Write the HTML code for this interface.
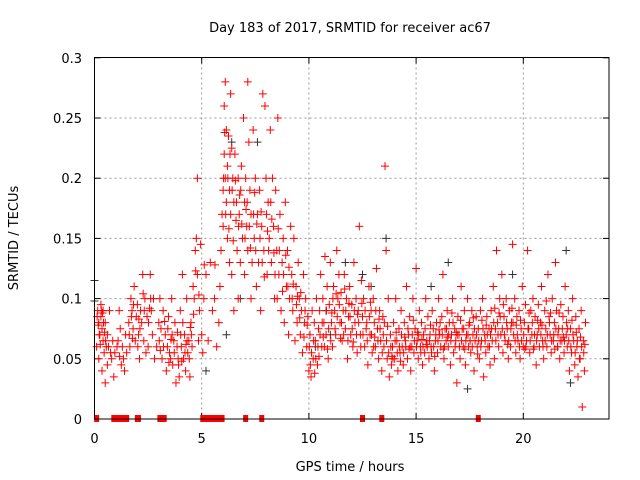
<!DOCTYPE html>
<html><head><meta charset="utf-8"><style>
body{margin:0;background:#fff}
svg{display:block;font-family:"DejaVu Sans","Liberation Sans",sans-serif}
</style></head><body>
<svg id="chart" width="640" height="480" viewBox="0 0 640 480">
<rect width="640" height="480" fill="#fff"/>
<text x="350" y="32" font-size="13" text-anchor="middle">Day 183 of 2017, SRMTID for receiver ac67</text>
<text transform="translate(18,238) rotate(-90)" font-size="13" text-anchor="middle">SRMTID / TECUs</text>
<text x="350" y="471" font-size="13" text-anchor="middle">GPS time / hours</text>
<g id="grid"></g>
<g id="ticks"></g>
<g id="marks"></g>
<rect x="94.5" y="57.5" width="514.5" height="361.5" fill="none" stroke="#000" stroke-width="1"/>
</svg>
<script>
const xTicks=[0,5,10,15,20];
const yTicks=[0,0.05,0.1,0.15,0.2,0.25,0.3];
const yTickLabels=["0","0.05","0.1","0.15","0.2","0.25","0.3"];
const redPoints=[[0.1,0.06],[0.15,0.09],[0.2,0.08],[0.2,0.05],[0.25,0.07],[0.3,0.095],[0.3,0.085],[0.35,0.04],[0.35,0.075],[0.4,0.09],[0.4,0.065],[0.45,0.055],[0.5,0.08],[0.5,0.03],[0.55,0.06],[0.6,0.07],[0.6,0.045],[0.65,0.06],[0.7,0.09],[0.75,0.055],[0.8,0.05],[0.85,0.065],[0.9,0.035],[0.95,0.055],[1.05,0.06],[1.1,0.065],[1.15,0.09],[1.2,0.075],[1.25,0.045],[1.3,0.06],[1.35,0.05],[1.4,0.04],[1.45,0.07],[1.5,0.055],[1.6,0.08],[1.65,0.06],[1.7,0.1],[1.75,0.09],[1.8,0.075],[1.85,0.11],[1.9,0.065],[1.95,0.085],[2.0,0.095],[2.05,0.07],[2.1,0.05],[2.15,0.09],[2.2,0.08],[2.25,0.12],[2.3,0.065],[2.35,0.1],[2.4,0.055],[2.45,0.085],[2.5,0.06],[2.6,0.12],[2.65,0.09],[2.7,0.07],[2.75,0.1],[2.8,0.05],[2.9,0.06],[3.0,0.08],[3.05,0.1],[3.1,0.075],[3.15,0.05],[3.2,0.09],[3.3,0.07],[3.35,0.04],[3.4,0.06],[3.45,0.085],[3.5,0.055],[3.55,0.05],[3.6,0.1],[3.65,0.045],[3.7,0.065],[3.75,0.08],[3.8,0.03],[3.85,0.06],[3.9,0.05],[3.95,0.035],[4.0,0.09],[4.05,0.06],[4.1,0.12],[4.15,0.05],[4.2,0.07],[4.25,0.04],[4.3,0.1],[4.35,0.055],[4.4,0.065],[4.45,0.035],[4.5,0.08],[4.55,0.06],[4.6,0.11],[4.65,0.1],[4.7,0.14],[4.75,0.15],[4.8,0.2],[4.8,0.12],[4.85,0.065],[4.9,0.09],[4.95,0.145],[5.0,0.07],[5.05,0.055],[5.1,0.1],[5.2,0.12],[5.3,0.065],[5.4,0.13],[5.5,0.09],[5.6,0.1],[5.7,0.06],[5.8,0.08],[5.85,0.11],[5.9,0.14],[5.95,0.17],[6.0,0.19],[6.0,0.16],[6.05,0.26],[6.05,0.22],[6.1,0.28],[6.1,0.2],[6.15,0.24],[6.15,0.18],[6.2,0.21],[6.2,0.15],[6.25,0.235],[6.3,0.19],[6.3,0.13],[6.35,0.27],[6.35,0.17],[6.4,0.225],[6.4,0.12],[6.45,0.2],[6.5,0.18],[6.5,0.09],[6.55,0.22],[6.6,0.165],[6.65,0.14],[6.7,0.2],[6.7,0.1],[6.75,0.17],[6.8,0.13],[6.85,0.21],[6.9,0.15],[6.95,0.25],[7.0,0.18],[7.0,0.12],[7.05,0.2],[7.1,0.16],[7.15,0.28],[7.15,0.14],[7.2,0.23],[7.25,0.19],[7.3,0.1],[7.3,0.17],[7.35,0.13],[7.4,0.24],[7.45,0.15],[7.5,0.2],[7.55,0.11],[7.6,0.17],[7.65,0.13],[7.7,0.19],[7.75,0.09],[7.8,0.16],[7.85,0.27],[7.9,0.14],[7.95,0.26],[8.0,0.2],[8.05,0.12],[8.1,0.18],[8.15,0.15],[8.2,0.24],[8.25,0.13],[8.3,0.2],[8.35,0.16],[8.4,0.1],[8.45,0.19],[8.5,0.14],[8.55,0.25],[8.6,0.12],[8.65,0.17],[8.7,0.09],[8.75,0.13],[8.8,0.15],[8.85,0.08],[8.9,0.18],[8.95,0.11],[9.0,0.14],[9.05,0.07],[9.1,0.1],[9.15,0.16],[9.2,0.12],[9.25,0.09],[9.3,0.15],[9.35,0.065],[9.4,0.11],[9.45,0.08],[9.5,0.13],[9.55,0.1],[9.6,0.07],[9.65,0.09],[9.7,0.055],[9.75,0.12],[9.8,0.08],[9.85,0.1],[9.9,0.06],[9.95,0.085],[10.0,0.04],[10.05,0.07],[10.1,0.035],[10.15,0.09],[10.2,0.05],[10.25,0.08],[10.3,0.065],[10.35,0.1],[10.4,0.045],[10.45,0.075],[10.5,0.09],[10.55,0.12],[10.6,0.06],[10.65,0.1],[10.7,0.08],[10.75,0.135],[10.8,0.07],[10.85,0.11],[10.9,0.05],[10.95,0.095],[11.0,0.13],[11.05,0.08],[11.1,0.06],[11.15,0.11],[11.2,0.09],[11.25,0.07],[11.3,0.14],[11.35,0.1],[11.4,0.12],[11.45,0.08],[11.5,0.105],[11.55,0.065],[11.6,0.09],[11.65,0.12],[11.7,0.075],[11.75,0.1],[11.8,0.05],[11.85,0.085],[11.9,0.11],[11.95,0.07],[12.0,0.095],[12.05,0.06],[12.1,0.13],[12.15,0.08],[12.2,0.1],[12.25,0.055],[12.3,0.09],[12.35,0.16],[12.4,0.07],[12.45,0.115],[12.5,0.085],[12.55,0.1],[12.6,0.06],[12.7,0.08],[12.75,0.045],[12.8,0.11],[12.85,0.07],[12.9,0.09],[12.95,0.055],[13.0,0.1],[13.05,0.08],[13.1,0.06],[13.15,0.125],[13.2,0.075],[13.25,0.05],[13.3,0.09],[13.35,0.065],[13.4,0.04],[13.45,0.085],[13.5,0.06],[13.55,0.21],[13.6,0.14],[13.65,0.05],[13.7,0.1],[13.75,0.035],[13.8,0.07],[13.85,0.045],[13.9,0.06],[13.95,0.08],[14.0,0.05],[14.05,0.1],[14.1,0.065],[14.15,0.04],[14.2,0.075],[14.25,0.055],[14.3,0.09],[14.35,0.06],[14.4,0.045],[14.45,0.08],[14.5,0.065],[14.55,0.11],[14.6,0.05],[14.65,0.07],[14.7,0.085],[14.75,0.04],[14.8,0.06],[14.85,0.1],[14.9,0.055],[14.95,0.075],[15.0,0.125],[15.05,0.065],[15.1,0.05],[15.15,0.09],[15.2,0.06],[15.25,0.08],[15.3,0.045],[15.35,0.07],[15.4,0.055],[15.45,0.1],[15.5,0.065],[15.55,0.085],[15.6,0.05],[15.65,0.07],[15.7,0.06],[15.75,0.09],[15.8,0.075],[15.85,0.04],[15.9,0.065],[15.95,0.08],[16.0,0.055],[16.05,0.1],[16.1,0.07],[16.15,0.06],[16.2,0.085],[16.25,0.12],[16.3,0.05],[16.35,0.075],[16.4,0.065],[16.45,0.09],[16.5,0.06],[16.55,0.08],[16.6,0.045],[16.65,0.07],[16.7,0.1],[16.75,0.055],[16.8,0.075],[16.85,0.065],[16.9,0.03],[16.95,0.085],[17.0,0.07],[17.05,0.05],[17.1,0.11],[17.15,0.075],[17.2,0.06],[17.25,0.09],[17.3,0.045],[17.35,0.07],[17.4,0.1],[17.45,0.06],[17.5,0.08],[17.55,0.055],[17.6,0.09],[17.65,0.07],[17.7,0.04],[17.75,0.065],[17.8,0.085],[17.85,0.06],[17.9,0.075],[17.95,0.05],[18.0,0.09],[18.05,0.065],[18.1,0.1],[18.15,0.035],[18.2,0.07],[18.25,0.055],[18.3,0.085],[18.35,0.06],[18.4,0.075],[18.45,0.045],[18.5,0.09],[18.55,0.065],[18.6,0.11],[18.65,0.05],[18.7,0.075],[18.75,0.14],[18.8,0.08],[18.85,0.06],[18.9,0.1],[18.95,0.07],[19.0,0.12],[19.05,0.055],[19.1,0.085],[19.15,0.065],[19.2,0.1],[19.25,0.075],[19.3,0.05],[19.35,0.09],[19.4,0.06],[19.45,0.08],[19.5,0.145],[19.55,0.07],[19.6,0.1],[19.65,0.055],[19.7,0.085],[19.75,0.065],[19.8,0.09],[19.85,0.05],[19.9,0.075],[19.95,0.11],[20.0,0.06],[20.05,0.08],[20.1,0.095],[20.15,0.065],[20.2,0.14],[20.25,0.075],[20.3,0.055],[20.35,0.09],[20.4,0.07],[20.45,0.1],[20.5,0.06],[20.55,0.085],[20.6,0.045],[20.65,0.07],[20.7,0.095],[20.75,0.06],[20.8,0.08],[20.85,0.11],[20.9,0.065],[20.95,0.05],[21.0,0.09],[21.05,0.075],[21.1,0.06],[21.15,0.12],[21.2,0.085],[21.25,0.07],[21.3,0.055],[21.35,0.1],[21.4,0.065],[21.45,0.08],[21.5,0.13],[21.55,0.09],[21.6,0.06],[21.65,0.075],[21.7,0.05],[21.75,0.095],[21.8,0.065],[21.85,0.085],[21.9,0.055],[21.95,0.11],[22.0,0.07],[22.05,0.06],[22.1,0.09],[22.15,0.04],[22.2,0.075],[22.25,0.055],[22.3,0.1],[22.35,0.065],[22.4,0.045],[22.45,0.085],[22.5,0.06],[22.55,0.035],[22.6,0.075],[22.65,0.05],[22.7,0.09],[22.75,0.01],[22.8,0.065],[22.85,0.04],[22.9,0.08],
[0.12,0.085],[0.22,0.07],[0.32,0.09],[0.42,0.08],[0.52,0.065],[1.62,0.07],[1.72,0.085],[1.82,0.095],[2.02,0.06],[2.12,0.075],[2.32,0.09],[2.52,0.08],[2.62,0.1],[3.02,0.065],[3.22,0.06],[3.42,0.075],[3.62,0.07],[3.72,0.055],[3.92,0.045],[4.02,0.07],[4.12,0.08],[4.22,0.055],[4.32,0.065],[4.42,0.05],[4.52,0.07],[6.02,0.2],[6.12,0.17],[6.22,0.2],[6.32,0.22],[6.42,0.19],[6.62,0.18],[6.72,0.16],[6.82,0.19],[7.02,0.15],[7.12,0.18],[7.22,0.16],[7.42,0.17],[7.52,0.14],[7.72,0.15],[7.82,0.13],[8.02,0.17],[8.12,0.14],[8.22,0.18],[8.42,0.12],[8.52,0.1],[8.62,0.14],[8.82,0.12],[9.02,0.11],[9.22,0.1],[9.42,0.095],[9.62,0.105],[9.82,0.09],[10.02,0.06],[10.12,0.055],[10.22,0.065],[10.32,0.05],[10.42,0.06],[10.52,0.07],[10.62,0.08],[10.72,0.06],[10.82,0.09],[10.92,0.075],[11.02,0.065],[11.12,0.1],[11.22,0.075],[11.32,0.085],[11.42,0.095],[11.52,0.08],[11.62,0.07],[11.72,0.09],[11.82,0.065],[11.92,0.085],[12.02,0.075],[12.12,0.09],[12.22,0.07],[12.32,0.08],[12.42,0.06],[12.52,0.07],[12.62,0.09],[12.72,0.065],[12.82,0.085],[12.92,0.07],[13.02,0.06],[13.12,0.09],[13.22,0.065],[13.32,0.075],[13.42,0.055],[13.52,0.08],[13.62,0.065],[13.72,0.055],[13.82,0.06],[13.92,0.05],[14.02,0.065],[14.12,0.055],[14.22,0.06],[14.32,0.07],[14.42,0.055],[14.52,0.06],[14.62,0.075],[14.72,0.06],[14.82,0.07],[14.92,0.065],[15.02,0.06],[15.12,0.07],[15.22,0.055],[15.32,0.06],[15.42,0.075],[15.52,0.06],[15.62,0.065],[15.72,0.055],[15.82,0.06],[15.92,0.07],[16.02,0.065],[16.12,0.08],[16.22,0.07],[16.32,0.06],[16.42,0.075],[16.52,0.07],[16.62,0.065],[16.72,0.08],[16.82,0.06],[16.92,0.07],[17.02,0.06],[17.12,0.065],[17.22,0.075],[17.32,0.065],[17.42,0.07],[17.52,0.065],[17.62,0.06],[17.72,0.075],[17.82,0.07],[17.92,0.065],[18.02,0.06],[18.12,0.075],[18.22,0.065],[18.32,0.07],[18.42,0.06],[18.52,0.075],[18.62,0.08],[18.72,0.065],[18.82,0.07],[18.92,0.085],[19.02,0.075],[19.12,0.07],[19.22,0.08],[19.32,0.065],[19.42,0.075],[19.52,0.08],[19.62,0.065],[19.72,0.07],[19.82,0.06],[19.92,0.065],[20.02,0.07],[20.12,0.06],[20.22,0.075],[20.32,0.065],[20.42,0.08],[20.52,0.07],[20.62,0.065],[20.72,0.075],[20.82,0.07],[20.92,0.06],[21.02,0.065],[21.12,0.07],[21.22,0.08],[21.32,0.065],[21.42,0.07],[21.52,0.075],[21.62,0.07],[21.72,0.065],[21.82,0.075],[21.92,0.065],[22.02,0.08],[22.12,0.065],[22.22,0.06],[22.32,0.07],[22.42,0.055],[22.52,0.065],[22.62,0.05],[22.72,0.06],[22.82,0.055],
[0.17,0.078],[0.27,0.062],[0.37,0.088],[0.47,0.072],[1.17,0.052],[1.77,0.067],[2.07,0.083],[2.27,0.104],[2.57,0.092],[3.07,0.057],[3.27,0.081],[3.47,0.047],[3.57,0.066],[3.87,0.072],[4.07,0.048],[4.27,0.062],[4.47,0.076],[4.62,0.087],[4.72,0.123],[4.87,0.103],[5.12,0.128],[5.62,0.128],[6.07,0.238],[6.27,0.158],[6.47,0.148],[6.57,0.198],[6.77,0.186],[6.87,0.162],[7.07,0.174],[7.27,0.142],[7.47,0.188],[7.57,0.162],[7.77,0.172],[7.92,0.118],[8.07,0.156],[8.27,0.166],[8.37,0.138],[8.57,0.158],[8.77,0.106],[8.92,0.136],[9.07,0.126],[9.27,0.112],[9.47,0.102],[9.57,0.084],[9.77,0.068],[9.92,0.078],[10.07,0.045],[10.27,0.038],[10.47,0.052],[10.67,0.068],[10.87,0.058],[11.07,0.088],[11.27,0.104],[11.47,0.067],[11.67,0.108],[11.87,0.096],[12.07,0.064],[12.27,0.087],[12.47,0.096],[12.67,0.075],[12.87,0.097],[13.07,0.068],[13.27,0.083],[13.47,0.07],[13.67,0.077],[13.87,0.052],[14.07,0.072],[14.27,0.048],[14.47,0.068],[14.67,0.058],[14.87,0.082],[15.07,0.072],[15.27,0.066],[15.47,0.062],[15.67,0.078],[15.87,0.052],[16.07,0.074],[16.27,0.058],[16.47,0.068],[16.67,0.088],[16.87,0.072],[17.07,0.082],[17.27,0.058],[17.47,0.078],[17.67,0.084],[17.87,0.054],[18.07,0.082],[18.27,0.078],[18.47,0.07],[18.67,0.092],[18.87,0.088],[19.07,0.095],[19.27,0.062],[19.47,0.092],[19.67,0.078],[19.87,0.082],[20.07,0.058],[20.27,0.088],[20.47,0.058],[20.67,0.082],[20.87,0.078],[21.07,0.098],[21.27,0.088],[21.47,0.058],[21.67,0.088],[21.87,0.068],[22.07,0.075],[22.27,0.082],[22.47,0.072],[22.67,0.068],[22.87,0.062]];
const blackPoints=[[0,0.115],[0,0.098],[5.2,0.04],[6.15,0.07],[6.4,0.23],[7.6,0.23],[6.8,0.1],[10.3,0.06],[11.0,0.07],[11.7,0.13],[12.5,0.12],[13.6,0.15],[15.7,0.11],[16.5,0.13],[17.4,0.025],[19.5,0.12],[21.6,0.06],[22.0,0.14],[22.2,0.03],[12.9,0.11],[10.8,0.09]];
const zeroTimes=[0.1,0.9,1.0,1.1,1.2,1.3,1.5,2.0,2.05,3.05,3.15,3.25,5.05,5.25,5.35,5.45,5.55,5.65,5.75,5.85,5.95,7.05,7.8,12.5,13.4,17.9];

const X0=94.5,XS=21.44,Y0=419,YS=1204;
const xs=t=>X0+t*XS, ys=v=>Y0-v*YS;
const NS="http://www.w3.org/2000/svg";
function mk(tag,attrs,parent){const e=document.createElementNS(NS,tag);for(const k in attrs)e.setAttribute(k,attrs[k]);parent.appendChild(e);return e;}
const grid=document.getElementById('grid'),ticks=document.getElementById('ticks'),marks=document.getElementById('marks');
xTicks.forEach(t=>{const x=xs(t);
 if(t>0){const g=mk('line',{x1:x,x2:x,y1:57.5,y2:419,stroke:'#999','stroke-dasharray':'2,3'},grid);
 
 }
 mk('line',{x1:x,x2:x,y1:419,y2:413,stroke:'#000'},ticks);
 mk('line',{x1:x,x2:x,y1:57.5,y2:63.5,stroke:'#000'},ticks);
 const l=mk('text',{x:x,y:443,'font-size':13,'text-anchor':'middle'},ticks);l.textContent=String(t);
 
 
});
yTicks.forEach((v,i)=>{const y=ys(v);
 if(v>0&&v<0.3){const g=mk('line',{x1:94.5,x2:609,y1:y,y2:y,stroke:'#999','stroke-dasharray':'2,3'},grid);
 
 }
 mk('line',{x1:94.5,x2:100.5,y1:y,y2:y,stroke:'#000'},ticks);
 mk('line',{x1:603,x2:609,y1:y,y2:y,stroke:'#000'},ticks);
 const l=mk('text',{x:82,y:y+5,'font-size':13,'text-anchor':'end'},ticks);l.textContent=yTickLabels[i];
 
 
});
function plus(t,v,color,name){const x=xs(t),y=ys(v);
 const p=mk('path',{d:`M${x-4},${y}h8M${x},${y-4}v8`,stroke:color,'stroke-width':1,fill:'none'},marks);
 
 
}
blackPoints.forEach(p=>plus(p[0],p[1],'#333','black-point'));
redPoints.forEach(p=>plus(p[0],p[1],'#f00','red-point'));
zeroTimes.forEach(t=>{const x=xs(t);
 const r=mk('rect',{x:x-2.5,y:415,width:5,height:7,fill:'#f00'},marks);
 
 
});
</script>
</body></html>
